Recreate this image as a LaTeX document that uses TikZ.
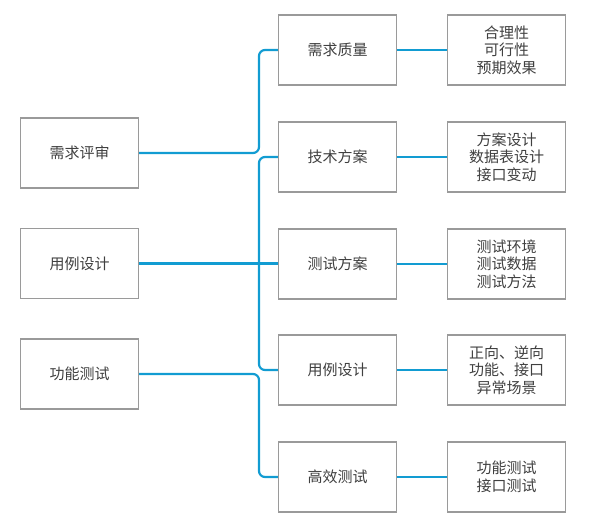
\documentclass[tikz,border=0pt]{standalone}
\usepackage{fontspec}
\newfontfamily\cjk{Noto Sans CJK SC}
\usepackage{xcolor}
\definecolor{boxedge}{HTML}{9A9A9A}
\definecolor{textgray}{HTML}{404040}
\definecolor{linkblue}{HTML}{129CD2}
\usepackage{tikz}
\usetikzlibrary{calc}

\begin{document}
\begin{tikzpicture}[
  x=1pt, y=-1pt,
  font=\cjk\fontsize{15}{17.5}\selectfont,
  cell/.style={
    draw=boxedge, fill=white, line width=1.2pt, text=textgray,
    minimum width=118pt, minimum height=70pt, align=center, inner sep=0pt
  },
  link/.style={draw=linkblue, line width=2.2pt, rounded corners=6pt}
]
  \useasboundingbox (0,0) rectangle (590,531);

  % left column
  \node[cell] (review) at (79.5,153) {需求评审};
  \node[cell] (casedesign) at (79.5,263.5) {用例设计};
  \node[cell] (functest) at (79.5,374) {功能测试};

  % middle column
  \node[cell] (quality) at (337.5,50) {需求质量};
  \node[cell] (techplan) at (337.5,157) {技术方案};
  \node[cell] (testplan) at (337.5,264) {测试方案};
  \node[cell] (cases) at (337.5,370) {用例设计};
  \node[cell] (fasttest) at (337.5,477) {高效测试};

  % right column
  \node[cell] (qualityd) at (506.5,50) {合理性\\可行性\\预期效果};
  \node[cell] (techpland) at (506.5,157) {方案设计\\数据表设计\\接口变动};
  \node[cell] (testpland) at (506.5,264) {测试环境\\测试数据\\测试方法};
  \node[cell] (casesd) at (506.5,370) {正向、逆向\\功能、接口\\异常场景};
  \node[cell] (fasttestd) at (506.5,477) {功能测试\\接口测试};

  \coordinate (bus) at (259,0);

  % left to middle
  \draw[link] (review.east) -- (review.east -| bus) |- (quality.west);
  \draw[link] (casedesign.east) -- (testplan.west |- casedesign.east);
  \draw[link] (techplan.west) -- (techplan.west -| bus) |- (cases.west);
  \draw[link] (functest.east) -- (functest.east -| bus) |- (fasttest.west);

  % middle to right
  \foreach \a in {quality, techplan, testplan, cases, fasttest} {
    \draw[link] (\a.east) -- (\a d.west);
  }
\end{tikzpicture}
\end{document}
